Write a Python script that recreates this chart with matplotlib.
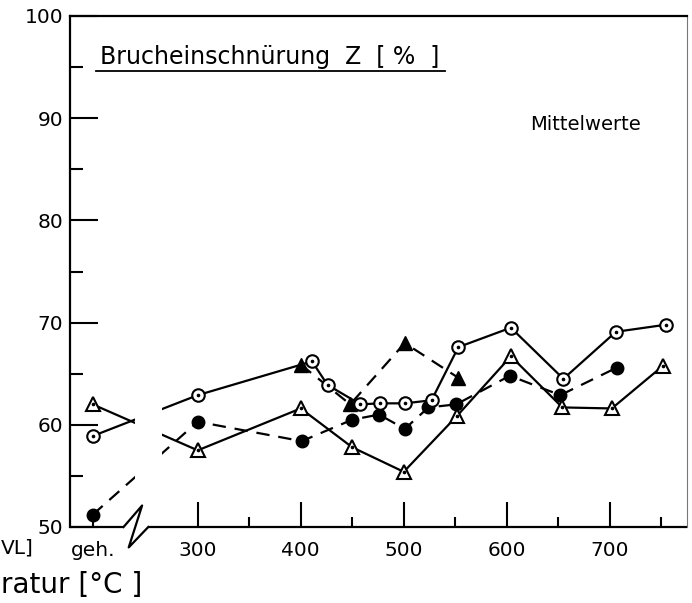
import matplotlib.pyplot as plt
from matplotlib.patches import Rectangle

# position of the "geh." (as-delivered) column on the temperature axis
GEH = 198

# open circles, solid line
circle_temp = [GEH, 300, 411, 426, 458, 477, 501, 527, 553, 604, 655, 706, 755]
circle_z = [58.9, 62.9, 66.2, 63.9, 62.0, 62.1, 62.1, 62.4, 67.6, 69.5, 64.5, 69.1, 69.8]

# open triangles, solid line
tri_temp = [GEH, 300, 400, 450, 500, 552, 604, 654, 702, 752]
tri_z = [62.0, 57.5, 61.6, 57.8, 55.4, 60.9, 66.7, 61.7, 61.6, 65.8]

# filled circles, dashed line
dot_temp = [GEH, 300, 401, 450, 476, 501, 524, 551, 603, 652, 707]
dot_z = [51.2, 60.3, 58.4, 60.5, 61.0, 59.6, 61.7, 62.0, 64.8, 62.9, 65.6]

# filled triangles, dashed line
btri_temp = [400, 448, 501, 553]
btri_z = [65.9, 62.0, 68.0, 64.6]

x_ticks = [GEH, 300, 400, 500, 600, 700]
x_ticklabels = ["geh.", "300", "400", "500", "600", "700"]
x_minor = [350, 450, 550, 650, 750]
y_ticks = [50, 60, 70, 80, 90, 100]
y_minor = [55, 65, 75, 85, 95]

# axis break on the temperature axis
break_x = [228, 246, 233, 252]
break_y = [50, 52.1, 48.0, 50]
gap_lo, gap_hi = 239, 265

XMIN, XMAX = 176, 775
YMIN, YMAX = 50, 100

plt.rcParams["font.family"] = "DejaVu Sans"

fig = plt.figure(figsize=(6.92, 6.03), dpi=100)
ax = fig.add_axes([70 / 692, 1 - 527 / 603, 617 / 692, 511 / 603])
ax.set_xlim(XMIN, XMAX)
ax.set_ylim(YMIN, YMAX)

LW = 1.6
dash = (0, (6, 4))

ax.plot(circle_temp, circle_z, color="black", lw=LW, zorder=2)
ax.plot(tri_temp, tri_z, color="black", lw=LW, zorder=2)
ax.plot(dot_temp, dot_z, color="black", lw=LW, ls=dash, zorder=2)
ax.plot(btri_temp, btri_z, color="black", lw=LW, ls=dash, zorder=2)

# lines are interrupted where the axis is broken
ax.add_patch(Rectangle((gap_lo, 53), gap_hi - gap_lo, 40,
                       facecolor="white", edgecolor="none", zorder=2.5))

ax.plot(dot_temp, dot_z, ls="none", marker="o", ms=9, mfc="black",
        mec="black", zorder=4)
ax.plot(btri_temp, btri_z, ls="none", marker="^", ms=10.5, mfc="black",
        mec="black", zorder=4)
ax.plot(tri_temp, tri_z, ls="none", marker="^", ms=10.5, mfc="white",
        mec="black", mew=1.5, zorder=5)
ax.plot(circle_temp, circle_z, ls="none", marker="o", ms=9, mfc="white",
        mec="black", mew=1.5, zorder=5)
# centre dots of the open symbols
ax.plot(tri_temp, tri_z, ls="none", marker="o", ms=1.6, color="black", zorder=6)
ax.plot(circle_temp, circle_z, ls="none", marker="o", ms=1.6, color="black", zorder=6)

# frame
ax.spines["bottom"].set_visible(False)
ax.spines["left"].set_linewidth(1.6)
ax.spines["top"].set_linewidth(1.6)
ax.spines["right"].set_linewidth(0.8)
ax.spines["right"].set_color("#777777")
ax.spines["right"].set_linestyle((0, (3, 1)))

ax.plot([XMIN, break_x[0]], [YMIN, YMIN], color="black", lw=1.6,
        clip_on=False, zorder=3, solid_capstyle="butt")
ax.plot(break_x, break_y, color="black", lw=1.6, clip_on=False, zorder=3)
ax.plot([break_x[-1], XMAX], [YMIN, YMIN], color="black", lw=1.6,
        clip_on=False, zorder=3, solid_capstyle="butt")

ax.set_xticks(x_ticks)
ax.set_xticklabels(x_ticklabels)
ax.set_xticks(x_minor, minor=True)
ax.set_yticks(y_ticks)
ax.set_yticks(y_minor, minor=True)
ax.tick_params(axis="both", which="both", direction="in", width=1.5,
               labelsize=14.5, top=False, right=False)
ax.tick_params(axis="x", which="major", length=18, pad=10)
ax.tick_params(axis="x", which="minor", length=7)
ax.tick_params(axis="y", which="major", length=20, pad=5)
ax.tick_params(axis="y", which="minor", length=9)
ax.xaxis.get_major_ticks()[0].tick1line.set_markersize(4)

# heading with underline
ax.text(0.049, 0.906, "Brucheinschnürung  Z  [ %  ]", transform=ax.transAxes,
        fontsize=17, ha="left", va="baseline", zorder=6)
ax.plot([0.042, 0.608], [0.892, 0.892], transform=ax.transAxes,
        color="black", lw=1.3, zorder=6)
ax.text(0.836, 0.777, "Mittelwerte", transform=ax.transAxes,
        fontsize=14, ha="center", va="baseline")

# axis label pieces at the lower left
fig.text(1 / 692, 1 - 548 / 603, "VL]", fontsize=14.5, ha="left", va="center")
fig.text(1 / 692, 1 - 593 / 603, "ratur [°C ]", fontsize=20,
         ha="left", va="baseline")

fig.savefig("out.png", dpi=100)
